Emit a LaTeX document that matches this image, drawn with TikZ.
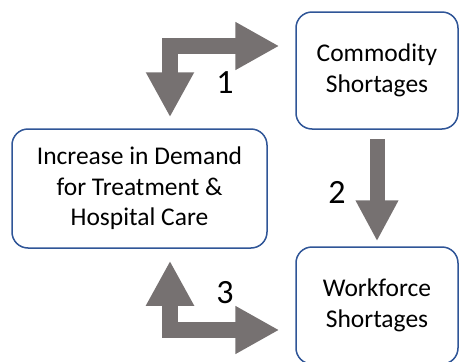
\documentclass[tikz,border=0pt]{standalone}
\usepackage{fontspec}
\setmainfont{Carlito}
\usetikzlibrary{arrows.meta,calc}
\definecolor{boxblue}{RGB}{47,85,151}
\definecolor{arrowgray}{RGB}{118,113,113}
\begin{document}
\begin{tikzpicture}[x=1pt, y=-1pt,
    box/.style={draw=boxblue, line width=1.5pt, rounded corners=16pt, align=center,
        inner sep=0pt, font=\fontsize{25.5}{30.5}\selectfont},
    fat/.style={draw=arrowgray, line width=16pt, line join=miter,
        {Triangle[length=45pt,width=45pt]}-{Triangle[length=44pt,width=45pt]}},
    thin/.style={draw=arrowgray, line width=15pt,
        -{Triangle[length=41pt,width=40pt]}},
    num/.style={font=\fontsize{34}{34}\selectfont}]
    \useasboundingbox (0,0) rectangle (459,362);

    % boxes
    \node[box, minimum width=162pt, minimum height=117pt] (commodity) at (377,70.5)
        {Commodity\\Shortages};
    \node[box, minimum width=255pt, minimum height=119pt] (demand) at (139.5,188.5)
        {Increase in Demand\\for Treatment \&\\Hospital Care};
    \node[box, minimum width=162pt, minimum height=117pt] (workforce) at (377,305.5)
        {Workforce\\Shortages};

    % arrows
    \coordinate (bend1) at (170,46);
    \coordinate (bend3) at (170,330);
    \draw[fat, shorten <=11pt, shorten >=16pt]
        (demand.north -| bend1) -- (bend1) -- (commodity.west |- bend1);
    \draw[thin, shorten <=9pt, shorten >=5pt] (commodity.south) -- (workforce.north);
    \draw[fat, shorten <=12pt, shorten >=16pt]
        (demand.south -| bend3) -- (bend3) -- (workforce.west |- bend3);

    % labels
    \node[num] (n1) at (225,83) {1};
    \node[num] (n2) at (337,192) {2};
    \node[num] (n3) at (225,293) {3};
\end{tikzpicture}
\end{document}
